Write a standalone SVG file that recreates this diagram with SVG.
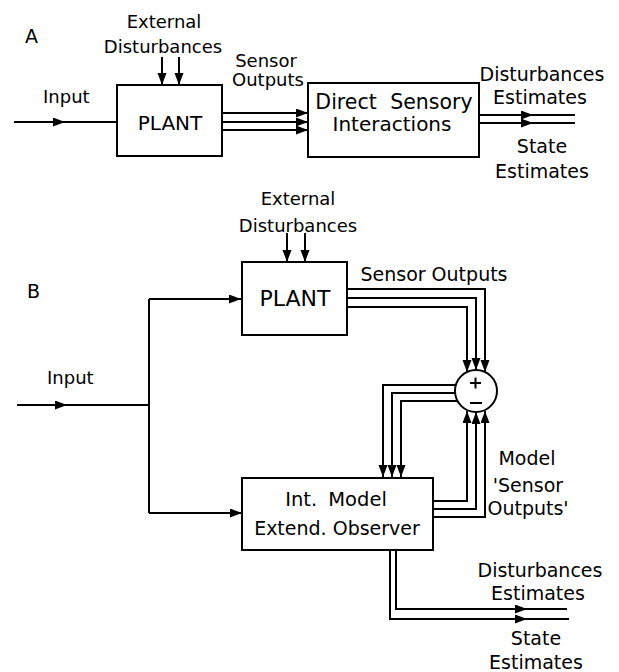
<svg xmlns="http://www.w3.org/2000/svg" width="619" height="672" viewBox="0 0 619 672">
<style>
text{font-family:"DejaVu Sans","Liberation Sans",sans-serif;fill:#000}
.l{font-size:18px}
.m{font-size:19px}
.bx{fill:#fff;stroke:#000;stroke-width:2}
.c path,.c line{fill:none;stroke:#000;stroke-width:2}
</style>
<defs>
<marker id="ah" markerUnits="userSpaceOnUse" markerWidth="13" markerHeight="10" refX="12" refY="4.5" orient="auto">
<path d="M0,0 L12,4.5 L0,9 z" fill="#000"/>
</marker>
</defs>
<rect width="619" height="672" fill="#fff"/>

<g id="labels">
<text x="25" y="43" style="font-size:19px">A</text>
<text x="164" y="28" class="l" text-anchor="middle">External</text>
<text x="163" y="53" class="l" text-anchor="middle">Disturbances</text>
<text x="43" y="103" class="l">Input</text>
<text x="266" y="67" class="l" text-anchor="middle">Sensor</text>
<text x="268" y="86" class="l" text-anchor="middle">Outputs</text>
<text x="542" y="81" class="m" text-anchor="middle">Disturbances</text>
<text x="540" y="104" class="m" text-anchor="middle">Estimates</text>
<text x="542" y="153" class="m" text-anchor="middle">State</text>
<text x="542" y="178" class="m" text-anchor="middle">Estimates</text>

<text x="27" y="298" style="font-size:19px">B</text>
<text x="298" y="205" class="l" text-anchor="middle">External</text>
<text x="298" y="232" class="l" text-anchor="middle">Disturbances</text>
<text x="434" y="281" class="m" text-anchor="middle">Sensor Outputs</text>
<text x="47" y="384" class="l">Input</text>
<text x="527" y="465" class="m" text-anchor="middle">Model</text>
<text x="528" y="492" class="m" text-anchor="middle">'Sensor</text>
<text x="528" y="515" class="m" text-anchor="middle">Outputs'</text>
<text x="540" y="577" class="m" text-anchor="middle">Disturbances</text>
<text x="538" y="600" class="m" text-anchor="middle">Estimates</text>
<text x="536" y="645" class="m" text-anchor="middle">State</text>
<text x="536" y="669" class="m" text-anchor="middle">Estimates</text>
</g>

<g id="A_plant">
<rect class="bx" x="117" y="85" width="105" height="71"/>
<text x="170" y="130" text-anchor="middle" style="font-size:20px">PLANT</text>
</g>
<g id="A_direct">
<rect class="bx" x="308" y="83" width="171" height="74"/>
<text x="394" y="109" text-anchor="middle" style="font-size:20.5px;word-spacing:7px">Direct Sensory</text>
<text x="392" y="131" text-anchor="middle" style="font-size:20px">Interactions</text>
</g>

<g id="B_plant">
<rect class="bx" x="242" y="262" width="105" height="73"/>
<text x="295" y="306" text-anchor="middle" style="font-size:22px">PLANT</text>
</g>
<g id="B_sum">
<circle cx="476" cy="391" r="21" fill="#fff" stroke="#000" stroke-width="2"/>
<path d="M470,383 H481 M475.5,377.5 V388.5 M470,403 H482" stroke="#000" stroke-width="2" fill="none"/>
</g>
<g id="B_model">
<rect class="bx" x="242" y="478" width="191" height="72"/>
<text x="336" y="506" text-anchor="middle" style="font-size:19.5px;word-spacing:5px">Int. Model</text>
<text x="337" y="535" text-anchor="middle" style="font-size:19px">Extend. Observer</text>
</g>

<g id="connectors" class="c">
<!-- A -->
<path d="M14,122 H65" marker-end="url(#ah)"/>
<path d="M65,122 H117"/>
<path d="M162,57 V85" marker-end="url(#ah)"/>
<path d="M179,57 V85" marker-end="url(#ah)"/>
<path d="M222,113 H308" marker-end="url(#ah)"/>
<path d="M222,122 H308" marker-end="url(#ah)"/>
<path d="M222,130 H308" marker-end="url(#ah)"/>
<path d="M479,115 H533" marker-end="url(#ah)"/>
<path d="M533,115 H575"/>
<path d="M479,123 H533" marker-end="url(#ah)"/>
<path d="M533,123 H575"/>
<!-- B -->
<path d="M17,405 H67" marker-end="url(#ah)"/>
<path d="M67,405 H149"/>
<path d="M149,299 V513"/>
<path d="M149,299 H241" marker-end="url(#ah)"/>
<path d="M149,513 H242" marker-end="url(#ah)"/>
<path d="M287,233 V262" marker-end="url(#ah)"/>
<path d="M305,233 V262" marker-end="url(#ah)"/>
<path d="M347,289 H485 V372" marker-end="url(#ah)"/>
<path d="M347,298 H476 V370" marker-end="url(#ah)"/>
<path d="M347,307 H467 V372" marker-end="url(#ah)"/>
<path d="M456,385 H383 V477" marker-end="url(#ah)"/>
<path d="M455,393 H392 V477" marker-end="url(#ah)"/>
<path d="M457,401 H401 V477" marker-end="url(#ah)"/>
<path d="M433,501 H467 V411" marker-end="url(#ah)"/>
<path d="M433,509 H476 V412" marker-end="url(#ah)"/>
<path d="M433,517 H485 V411" marker-end="url(#ah)"/>
<path d="M396,550 V609 H527" marker-end="url(#ah)"/>
<path d="M527,609 H567"/>
<path d="M390,550 V619 H527" marker-end="url(#ah)"/>
<path d="M527,619 H569"/>
</g>
</svg>
